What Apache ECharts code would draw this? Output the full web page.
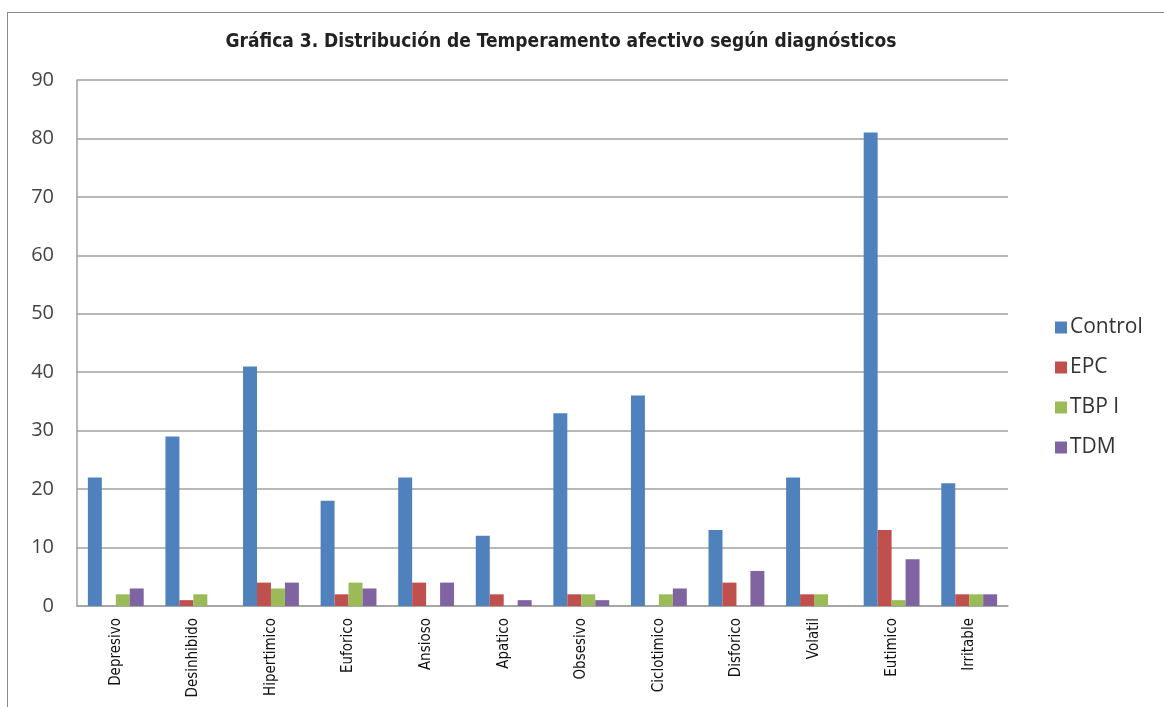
<!DOCTYPE html>
<html>
<head>
<meta charset="utf-8">
<script src="https://cdn.jsdelivr.net/npm/echarts@6/dist/echarts.min.js"></script>
<style>
html,body{margin:0;padding:0;background:#fff;}
#frame{position:absolute;left:7px;top:12px;width:1180px;height:720px;border:1.5px solid #8a8a8a;}
#main{position:absolute;left:0;top:0;width:1164px;height:707px;}
</style>
</head>
<body>
<div id="frame"></div>
<div id="main"></div>
<script>
var categories=['Depresivo','Desinhibido','Hipertimico','Euforico','Ansioso','Apatico','Obsesivo','Ciclotimico','Disforico','Volatil','Eutimico','Irritable'];
var control=[22,29,41,18,22,12,33,36,13,22,81,21];
var epc=[0,1,4,2,4,2,2,0,4,2,13,2];
var tbp=[2,2,3,4,0,0,2,2,0,2,1,2];
var tdm=[3,0,4,3,4,1,1,3,6,0,8,2];
var yTicks=[0,10,20,30,40,50,60,70,80,90];

var myChart=echarts.init(document.getElementById('main'));
var option={
    title:{
        text:'Gráfica 3. Distribución de Temperamento afectivo según diagnósticos',
        left:556,
        textAlign:'center',
        top:28,
        textStyle:{fontFamily:'DejaVu Sans Condensed',fontSize:19,fontWeight:'bold',color:'#222'}
    },
    legend:{
        orient:'vertical',
        left:1050,
        top:312,
        itemWidth:12,
        itemHeight:12,
        itemGap:19,
        icon:'rect',
        textStyle:{fontFamily:'Open Sans',fontSize:21,color:'#333',padding:[0,0,0,-2]},
        data:['Control','EPC','TBP I','TDM']
    },
    grid:{left:77,right:156,top:80,bottom:101},
    xAxis:{
        type:'category',
        data:categories,
        axisLine:{lineStyle:{color:'#a0a0a0',width:1.5}},
        axisTick:{show:false},
        axisLabel:{rotate:90,fontFamily:'DejaVu Sans Condensed',fontSize:15,color:'#111',margin:12}
    },
    yAxis:{
        type:'value',
        min:yTicks[0],
        max:yTicks[yTicks.length-1],
        interval:10,
        axisLine:{show:true,lineStyle:{color:'#a0a0a0',width:1.5}},
        axisLabel:{fontFamily:'Open Sans',fontSize:20,color:'#444',margin:23},
        splitLine:{lineStyle:{color:'#a0a0a0',width:1.5}}
    },
    series:[
        {name:'Control',type:'bar',data:control,itemStyle:{color:'#4F81BD'},barGap:'0%',barCategoryGap:'28%'},
        {name:'EPC',type:'bar',data:epc,itemStyle:{color:'#C0504D'}},
        {name:'TBP I',type:'bar',data:tbp,itemStyle:{color:'#9BBB59'}},
        {name:'TDM',type:'bar',data:tdm,itemStyle:{color:'#8064A2'}}
    ]
};
myChart.setOption(option);
</script>
</body>
</html>
